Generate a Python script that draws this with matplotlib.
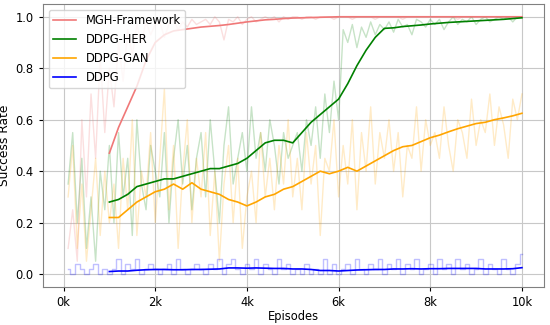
import numpy as np
import matplotlib
matplotlib.use("Agg")
import matplotlib.pyplot as plt

# raw episodes (every 100 episodes)
raw_episodes = list(range(100, 10001, 100))
# smoothed curves (every 200 episodes, starting at 1k)
smooth_episodes = list(range(1000, 10001, 200))

x_ticks = [0, 2000, 4000, 6000, 8000, 10000]
x_tick_labels = ["0k", "2k", "4k", "6k", "8k", "10k"]

mgh_raw = [
    0.10, 0.25, 0.05, 0.60, 0.30, 0.70, 0.45, 0.85, 0.55, 0.80,
    0.65, 0.90, 0.75, 0.95, 0.85, 0.97, 0.90, 0.98, 0.93, 0.97,
    0.98, 0.92, 0.97, 0.99, 0.95, 0.98, 0.96, 0.99, 0.97, 0.98,
    0.99, 0.97, 1.00, 0.98, 0.91, 0.99, 0.98, 1.00, 0.97, 0.99,
    1.00, 0.98, 0.99, 1.00, 0.99, 1.00, 0.98, 1.00, 0.99, 1.00,
    1.00, 0.99, 1.00, 1.00, 0.99, 1.00, 1.00, 1.00, 0.99, 1.00,
    1.00, 1.00, 0.99, 1.00, 1.00, 1.00, 1.00, 0.99, 1.00, 1.00,
    1.00, 1.00, 1.00, 0.99, 1.00, 1.00, 1.00, 1.00, 1.00, 1.00,
    1.00, 1.00, 1.00, 1.00, 1.00, 0.99, 1.00, 1.00, 1.00, 1.00,
    1.00, 1.00, 1.00, 1.00, 1.00, 1.00, 1.00, 1.00, 1.00, 1.00,
]
her_raw = [
    0.35, 0.55, 0.20, 0.45, 0.10, 0.30, 0.05, 0.40, 0.25, 0.50,
    0.20, 0.55, 0.30, 0.45, 0.15, 0.60, 0.35, 0.25, 0.50, 0.40,
    0.30, 0.55, 0.20, 0.45, 0.60, 0.35, 0.50, 0.25, 0.45, 0.55,
    0.30, 0.60, 0.40, 0.20, 0.50, 0.65, 0.35, 0.45, 0.55, 0.40,
    0.65, 0.45, 0.55, 0.40, 0.60, 0.50, 0.35, 0.55, 0.45, 0.50,
    0.55, 0.40, 0.60, 0.50, 0.65, 0.45, 0.70, 0.55, 0.75, 0.60,
    0.95, 0.90, 0.97, 0.88, 0.96, 0.92, 0.98, 0.93, 0.97, 0.95,
    0.98, 0.94, 0.99, 0.96, 0.97, 0.93, 0.99, 0.98, 0.96, 0.99,
    0.97, 0.99, 0.95, 0.98, 1.00, 0.97, 0.99, 0.98, 1.00, 0.97,
    0.99, 1.00, 0.98, 0.99, 1.00, 0.99, 1.00, 0.98, 1.00, 1.00,
]
gan_raw = [
    0.30, 0.50, 0.10, 0.35, 0.05, 0.25, 0.45, 0.15, 0.40, 0.20,
    0.35, 0.10, 0.45, 0.25, 0.60, 0.15, 0.40, 0.30, 0.55, 0.20,
    0.45, 0.72, 0.25, 0.50, 0.10, 0.40, 0.60, 0.20, 0.45, 0.30,
    0.55, 0.15, 0.40, 0.05, 0.35, 0.50, 0.20, 0.45, 0.10, 0.30,
    0.40, 0.20, 0.55, 0.30, 0.45, 0.25, 0.50, 0.35, 0.60, 0.30,
    0.45, 0.25, 0.55, 0.35, 0.50, 0.15, 0.45, 0.40, 0.60, 0.30,
    0.50, 0.35, 0.60, 0.25, 0.55, 0.40, 0.65, 0.35, 0.55, 0.45,
    0.60, 0.40, 0.55, 0.30, 0.50, 0.45, 0.65, 0.40, 0.60, 0.50,
    0.55, 0.45, 0.65, 0.50, 0.40, 0.60, 0.55, 0.45, 0.68, 0.50,
    0.60, 0.55, 0.70, 0.50, 0.65, 0.58, 0.45, 0.68, 0.60, 0.70,
]
ddpg_raw = [
    0.02, 0.00, 0.04, 0.02, 0.00, 0.02, 0.04, 0.00, 0.02, 0.00,
    0.02, 0.06, 0.00, 0.04, 0.02, 0.06, 0.00, 0.02, 0.04, 0.02,
    0.00, 0.02, 0.04, 0.00, 0.06, 0.02, 0.00, 0.02, 0.04, 0.02,
    0.00, 0.04, 0.02, 0.06, 0.00, 0.04, 0.06, 0.02, 0.00, 0.04,
    0.02, 0.06, 0.00, 0.04, 0.02, 0.00, 0.06, 0.02, 0.04, 0.00,
    0.02, 0.00, 0.04, 0.00, 0.02, 0.00, 0.06, 0.00, 0.04, 0.00,
    0.02, 0.04, 0.00, 0.06, 0.02, 0.00, 0.04, 0.02, 0.06, 0.00,
    0.04, 0.02, 0.06, 0.00, 0.04, 0.02, 0.06, 0.00, 0.02, 0.04,
    0.00, 0.06, 0.02, 0.04, 0.00, 0.06, 0.02, 0.04, 0.00, 0.02,
    0.06, 0.00, 0.04, 0.02, 0.00, 0.06, 0.02, 0.00, 0.04, 0.08,
]

mgh_smooth = [
    0.47, 0.57, 0.65, 0.73, 0.83, 0.90, 0.93, 0.945, 0.95, 0.955,
    0.96, 0.963, 0.966, 0.97, 0.975, 0.98, 0.984, 0.988, 0.99, 0.993,
    0.995, 0.996, 0.997, 0.998, 0.999, 1.0, 1.0, 1.0, 1.0, 1.0,
    1.0, 1.0, 1.0, 1.0, 1.0, 1.0, 1.0, 1.0, 1.0, 1.0,
    1.0, 1.0, 1.0, 1.0, 1.0, 1.0,
]
her_smooth = [
    0.28, 0.29, 0.31, 0.34, 0.35, 0.36, 0.37, 0.37, 0.38, 0.39,
    0.40, 0.41, 0.41, 0.42, 0.43, 0.45, 0.48, 0.51, 0.52, 0.52,
    0.51, 0.55, 0.59, 0.62, 0.65, 0.68, 0.74, 0.81, 0.87, 0.92,
    0.955, 0.957, 0.962, 0.965, 0.968, 0.972, 0.975, 0.978, 0.98, 0.982,
    0.984, 0.986, 0.988, 0.99, 0.993, 0.996,
]
gan_smooth = [
    0.22, 0.22, 0.25, 0.28, 0.30, 0.32, 0.33, 0.35, 0.33, 0.355,
    0.33, 0.32, 0.31, 0.29, 0.28, 0.265, 0.28, 0.30, 0.31, 0.33,
    0.34, 0.36, 0.38, 0.40, 0.39, 0.40, 0.415, 0.40, 0.42, 0.44,
    0.46, 0.48, 0.495, 0.50, 0.515, 0.53, 0.54, 0.553, 0.565, 0.575,
    0.585, 0.59, 0.60, 0.607, 0.615, 0.625,
]
ddpg_smooth = [
    0.010, 0.012, 0.012, 0.015, 0.017, 0.018, 0.018, 0.017, 0.017, 0.018,
    0.018, 0.019, 0.020, 0.024, 0.024, 0.023, 0.024, 0.023, 0.022, 0.022,
    0.020, 0.020, 0.018, 0.014, 0.014, 0.012, 0.014, 0.016, 0.017, 0.018,
    0.018, 0.020, 0.020, 0.021, 0.020, 0.021, 0.021, 0.022, 0.022, 0.022,
    0.022, 0.020, 0.020, 0.020, 0.021, 0.025,
]

fs = 8.3

fig = plt.figure(figsize=(5.5, 3.25), dpi=100)
ax = fig.add_axes([0.078, 0.117, 0.911, 0.871])

# faint raw traces
ax.plot(raw_episodes, mgh_raw, color="lightcoral", alpha=0.25, lw=1)
ax.plot(raw_episodes, her_raw, color="green", alpha=0.22, lw=1)
ax.plot(raw_episodes, gan_raw, color="orange", alpha=0.22, lw=1)
ax.plot(raw_episodes, ddpg_raw, color="blue", alpha=0.25, lw=1, drawstyle="steps-mid")

# smoothed curves
ax.plot(smooth_episodes, mgh_smooth, color="#f07878", lw=1.2, label="MGH-Framework")
ax.plot(smooth_episodes, her_smooth, color="green", lw=1.2, label="DDPG-HER")
ax.plot(smooth_episodes, gan_smooth, color="orange", lw=1.2, label="DDPG-GAN")
ax.plot(smooth_episodes, ddpg_smooth, color="blue", lw=1.2, label="DDPG")

ax.set_xlim(-450, 10480)
ax.set_ylim(-0.05, 1.05)
ax.set_xticks(x_ticks)
ax.set_xticklabels(x_tick_labels)
ax.set_yticks([0.0, 0.2, 0.4, 0.6, 0.8, 1.0])
ax.tick_params(labelsize=fs, length=3)
ax.set_xlabel("Episodes", fontsize=fs, labelpad=1)
ax.set_ylabel("Success Rate", fontsize=8.8, labelpad=3)
ax.grid(True, color="#c8c8c8", lw=0.8)
for s in ax.spines.values():
    s.set_color("#808080")

ax.legend(loc="upper left", fontsize=fs, handlelength=2, borderaxespad=0.5)

fig.savefig("out.png", dpi=100)
